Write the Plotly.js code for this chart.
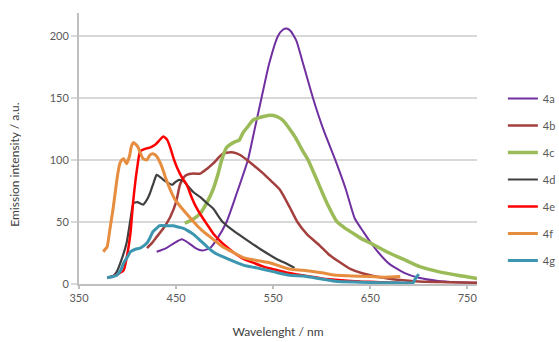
<!DOCTYPE html>
<html>
<head>
<meta charset="utf-8">
<script src="https://cdn.plot.ly/plotly-3.0.1.min.js"></script>
<style>html,body{margin:0;padding:0;background:#fff;}#chart{width:559px;height:342px;}</style>
</head>
<body>
<div id="chart"></div>
<script>
// Series names
var seriesNames = ["4a", "4b", "4c", "4d", "4e", "4f", "4g"];

// 4a
var wl4a = [430,440,448,456,463,470,477,485,492,502,512,524,531,538,546,555,560,564,568,574,580,591,602,614,625,634,643,650,660,670,685,700,720,740,760];
var in4a = [26,29,33,36,33,29,27,29,36,50,72,100,125,150,178,200,205,206,204,196,180,150,124,100,76,53,42,34,24,16,9,5,2.5,1.5,1];

// 4b
var wl4b = [420,425,430,437,444,450,454,458,461,468,475,482,488,494,498,504,509,516,523,531,540,548,557,567,575,585,598,607,616,630,650,668,684,700,730,760];
var in4b = [29,33,38,45,54,66,80,86,88,89,89,93,97,102,105,106,106,104,100,95,89,83,76,62,50,40,31,24,19,12,7,4.5,3,2,1.5,1];

// 4c
var wl4c = [459,467,475,482,488,493,497,502,509,515,519,524,529,535,540,547,554,560,567,573,580,586,595,605,616,624,632,640,650,667,684,701,720,740,760];
var in4c = [49,52,57,66,76,88,100,110,114,116,122,127,132,134,135,136,135,132,125,118,108,100,84,66,50,45,41,37,33,26,20,14,10,7,4.5];

// 4d
var wl4d = [382,386,389,394,399,403,406,410,416,420,423,427,430,434,437,441,446,449,453,458,461,468,475,482,488,498,509,520,537,554,565,572];
var in4d = [6,7,10,20,33,52,65,66,64,68,73,82,88,86,84,82,80,82,84,83,80,74,70,65,61,50,43,37,28,20,16,13];

// 4e
var wl4e = [379,384,390,396,400,403,406,410,413,418,423,428,433,437,441,444,448,451,456,461,466,470,476,482,488,495,502,510,520,530,540,550,565,580,600,620,640,660,680];
var in4e = [5,6,8,11,25,41,68,94,107,109,110,112,116,119,116,110,100,94,86,80,70,63,55,48,41,35,30,25,20,17,14,12,9,7,4.5,3,2,1.5,1];

// 4f
var wl4f = [375,377,379,382,385,388,390,392,394,396,399,402,404,406,408,411,413,416,420,423,426,430,434,437,439,444,449,457,466,473,480,490,498,510,520,533,547,567,581,600,616,630,650,665,681];
var in4f = [26,28,30,45,60,78,89,97,100,101,97,103,111,114,113,110,106,101,100,104,105,103,97,91,86,76,68,60,52,46,41,35,30,25,21,19,17,12,11,9,7,6.5,6,5.5,6];

// 4g
var wl4g = [379,385,389,393,396,400,403,408,413,420,423,426,430,433,440,447,452,457,462,468,475,482,490,498,510,520,533,550,567,581,600,616,640,660,680,694,697,700];
var in4g = [5,6,7,11,17,22,26,28,29,33,37,42,45,47,47,47,46,45,43,40,35,30,25,22,18,15,13,10,7,6.5,4,2,1.5,1,1,1,5,8];

// Tick labels
var xTicks = [350, 450, 550, 650, 750];
var yTicks = [0, 50, 100, 150, 200];

var xs = [wl4a, wl4b, wl4c, wl4d, wl4e, wl4f, wl4g];
var ys = [in4a, in4b, in4c, in4d, in4e, in4f, in4g];
var colors = ["#7030A0", "#A3403E", "#9BBB59", "#404040", "#FF0000", "#E68D3F", "#3C96B0"];
var widths = [2, 2.5, 3.5, 2.2, 2.5, 3, 3];

var traces = seriesNames.map(function (n, i) {
  return {
    type: "scatter", mode: "lines", name: n,
    x: xs[i], y: ys[i],
    legendgroup: n,
    line: {color: colors[i], width: widths[i], shape: "spline", smoothing: 0.5}
  };
});

var font = "Lato, 'Open Sans', sans-serif";
var layout = {
  width: 559, height: 342,
  margin: {l: 79, r: 82, t: 13, b: 58, autoexpand: false},
  paper_bgcolor: "#fff", plot_bgcolor: "#fff",
  font: {family: font, color: "#595959", size: 11},
  showlegend: true,
  legend: {
    x: 1.065, xanchor: "left", y: 0.738, yanchor: "top",
    font: {size: 11, color: "#595959"},
    traceorder: "grouped", tracegroupgap: 8,
    bgcolor: "rgba(0,0,0,0)"
  },
  xaxis: {
    range: [350, 760], tickvals: xTicks, ticktext: xTicks.map(String),
    showgrid: false, zeroline: false,
    showline: true, linecolor: "#BFBFBF", linewidth: 2,
    ticks: "outside", ticklen: 3, tickcolor: "#BFBFBF", tickwidth: 2,
    tickfont: {size: 11, color: "#595959"},
    title: {text: "Wavelenght / nm", font: {size: 12, color: "#404040"}, standoff: 24}
  },
  yaxis: {
    range: [0, 218.5], tickvals: yTicks, ticktext: yTicks.map(String),
    showgrid: true, gridcolor: "#D9D9D9", gridwidth: 2, zeroline: false,
    showline: true, linecolor: "#BFBFBF", linewidth: 2,
    ticks: "outside", ticklen: 6, tickcolor: "#D9D9D9", tickwidth: 2,
    tickfont: {size: 11, color: "#595959"}
  },
  annotations: [{
    text: "Emission intensity / a.u.", textangle: -90,
    xref: "paper", yref: "paper", x: (15 - 79) / 398, y: 0.44,
    xanchor: "center", yanchor: "middle", showarrow: false,
    font: {size: 12, color: "#404040"}
  }]
};

Plotly.newPlot("chart", traces, layout, {displayModeBar: false, staticPlot: true});
</script>
</body>
</html>
